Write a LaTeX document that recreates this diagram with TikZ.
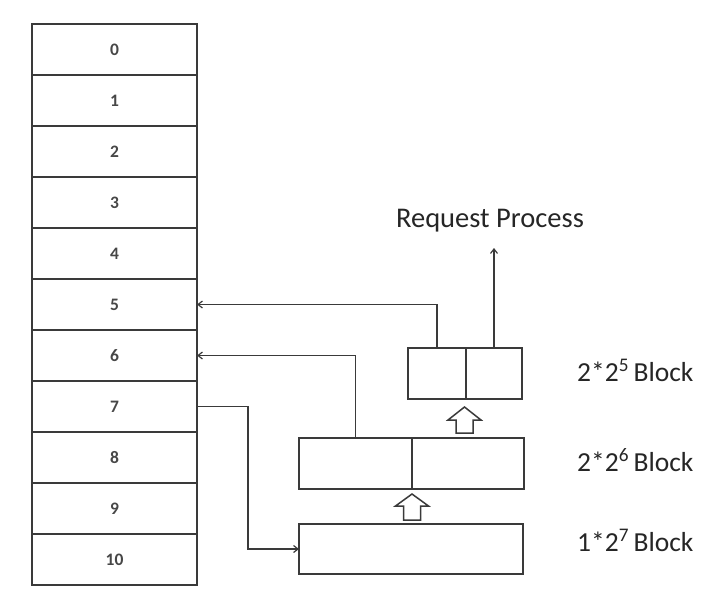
\documentclass[tikz,border=0pt]{standalone}
\usepackage{fontspec}
\setmainfont{Carlito}
\usetikzlibrary{arrows.meta,positioning}
\definecolor{linec}{HTML}{3A3A3A}
\definecolor{textc}{HTML}{262626}
\tikzset{
  cell/.style={draw=linec, line width=1.7pt, minimum width=165pt, minimum height=51pt, inner sep=0pt, outer sep=0pt, font=\fontsize{17.5}{19}\selectfont\bfseries, text=textc!85},
  blk/.style={draw=linec, line width=1.7pt, inner sep=0pt, outer sep=0pt},
  conn/.style={draw=linec, line width=1.6pt},
  tip/.style={-{Straight Barb[length=4.5pt,width=7pt,line width=1.2pt]}},
  lab/.style={font=\fontsize{27.5}{30}\selectfont, text=textc, inner sep=0pt},
  fatarrow/.style={draw=linec, line width=1.5pt, fill=white, line join=miter}
}
\begin{document}
\begin{tikzpicture}[x=1pt,y=-1pt]
\useasboundingbox (0,0) rectangle (716,598);
% memory column
\foreach \i in {0,...,10}{
  \node[cell] (r\i) at (114.5,{24+51*\i+25.5}) {\i};
}
% 2*2^5 block
\node[blk, minimum width=58pt, minimum height=51pt] (s1) at (437,373.5) {};
\node[blk, minimum width=56pt, minimum height=51pt] (s2) at (494,373.5) {};
% 2*2^6 block
\node[blk, minimum width=113pt, minimum height=51pt] (m1) at (355.5,463.5) {};
\node[blk, minimum width=112pt, minimum height=51pt] (m2) at (468,463.5) {};
% 1*2^7 block
\node[blk, minimum width=224pt, minimum height=50pt] (b) at (411,549) {};
% labels
\node[lab, anchor=base west] (l5) at (577,381) {2*2\textsuperscript{5}\,Block};
\node[lab, anchor=base west] (l6) at (577,471) {2*2\textsuperscript{6}\,Block};
\node[lab, anchor=base west] (l7) at (577,551) {1*2\textsuperscript{7}\,Block};
\node[lab, anchor=base, font=\fontsize{28.5}{31}\selectfont] (rp) at (490,227) {Request Process};
\coordinate (rpend) at (493,248);
% connectors
\draw[conn,tip] (s1.north) |- (r5.east);
\draw[conn,tip] (m1.north) |- (r6.east);
\draw[conn,tip] (r7.east) -- ++(51,0) |- (b.west);
\draw[conn,tip] (s2.north) -- (s2.north |- rpend);
% outline block arrows
\draw[fatarrow] (403.5,520) -- (403.5,506) -- (395.5,506) -- (412,494) -- (428.5,506) -- (420.5,506) -- (420.5,520) -- cycle;
\draw[fatarrow] (456,433) -- (456,420) -- (448,420) -- (464.5,407) -- (481,420) -- (473,420) -- (473,433) -- cycle;
\end{tikzpicture}
\end{document}
